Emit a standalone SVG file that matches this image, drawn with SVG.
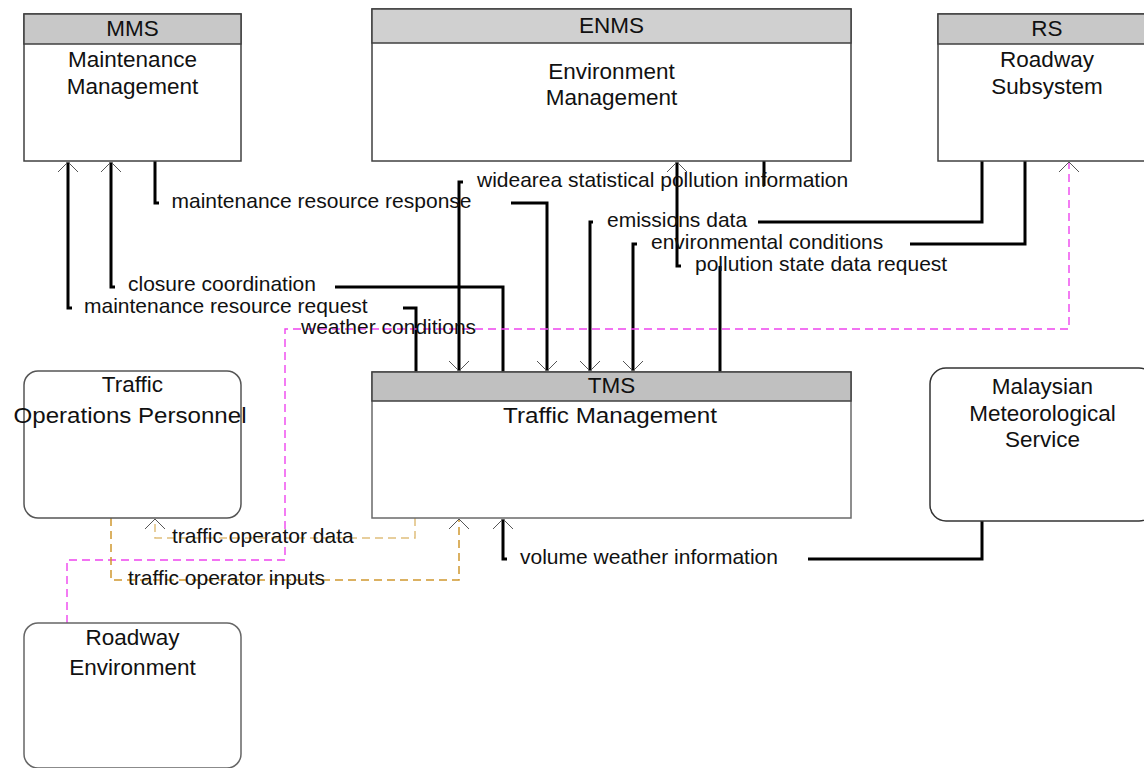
<svg xmlns="http://www.w3.org/2000/svg" width="1144" height="768" viewBox="0 0 1144 768">
<style>
.box{fill:#fff;stroke:#404040;stroke-width:1.5}
.hdr{stroke:#404040;stroke-width:1.5}
.nt{font-family:"Liberation Sans",Arial,sans-serif;font-size:22.5px;fill:#111;text-anchor:middle}
.lb{font-family:"Liberation Sans",Arial,sans-serif;font-size:21px;fill:#111}
.ln{fill:none;stroke:#000;stroke-width:3}
.dm{fill:none;stroke:#ee44ee;stroke-width:1.4;stroke-dasharray:8 5}
.dl{fill:none;stroke:#dfbf7c;stroke-width:1.5;stroke-dasharray:8 5}
.dg{fill:none;stroke:#d0982f;stroke-width:1.5;stroke-dasharray:8 5}
</style>
<defs>
<marker id="arr" viewBox="-12 -12 24 24" markerWidth="24" markerHeight="24" refX="0" refY="0" orient="auto" markerUnits="userSpaceOnUse" overflow="visible">
<path d="M-10,-10 L0,0 L-10,10" fill="none" stroke="#555" stroke-width="1"/>
</marker>
</defs>
<rect width="1144" height="768" fill="#fff"/>

<g id="connectors">
<!-- maintenance resource request: TMS -> MMS -->
<polyline class="ln" points="416,372 416,308 403,308"/>
<polyline class="ln" points="72,308 68,308 68,162" marker-end="url(#arr)"/>
<!-- closure coordination -->
<polyline class="ln" points="503,372 503,287 335,287"/>
<polyline class="ln" points="115,287 111,287 111,162" marker-end="url(#arr)"/>
<!-- maintenance resource response: MMS -> TMS -->
<polyline class="ln" points="155,161 155,203 159,203"/>
<polyline class="ln" points="511,203 547,203 547,371" marker-end="url(#arr)"/>
<!-- widearea statistical pollution information: ENMS -> TMS -->
<polyline class="ln" points="764,161 764,186"/>
<polyline class="ln" points="463,182 459,182 459,371" marker-end="url(#arr)"/>
<!-- emissions data: RS -> TMS -->
<polyline class="ln" points="982,161 982,222 758,222"/>
<polyline class="ln" points="593,222 590,222 590,371" marker-end="url(#arr)"/>
<!-- environmental conditions: RS -> TMS -->
<polyline class="ln" points="1025,161 1025,244 910,244"/>
<polyline class="ln" points="637,244 633,244 633,371" marker-end="url(#arr)"/>
<!-- pollution state data request: TMS -> ENMS -->
<polyline class="ln" points="720,372 720,266"/>
<polyline class="ln" points="681,266 677,266 677,162" marker-end="url(#arr)"/>
<!-- volume weather information: MetService -> TMS -->
<polyline class="ln" points="982,521 982,559 808,559"/>
<polyline class="ln" points="507,559 503,559 503,519" marker-end="url(#arr)"/>
<!-- weather conditions: Roadway Environment -> RS -->
<polyline class="dm" points="67,623 67,560 285,560 285,329 1069,329 1069,162" marker-end="url(#arr)"/>
<!-- traffic operator data: TMS -> TOP -->
<polyline class="dl" points="415,518 415,538 155,538 155,519" marker-end="url(#arr)"/>
<!-- traffic operator inputs: TOP -> TMS -->
<polyline class="dg" points="111,518 111,580 459,580 459,519" marker-end="url(#arr)"/>

<text class="lb" x="171.5" y="208">maintenance resource response</text>
<text class="lb" x="477" y="187">widearea statistical pollution information</text>
<text class="lb" x="607" y="227">emissions data</text>
<text class="lb" x="651" y="249">environmental conditions</text>
<text class="lb" x="695" y="271">pollution state data request</text>
<text class="lb" x="128" y="291">closure coordination</text>
<text class="lb" x="84" y="313">maintenance resource request</text>
<text class="lb" x="301" y="334">weather conditions</text>
<text class="lb" x="172" y="543">traffic operator data</text>
<text class="lb" x="128" y="585">traffic operator inputs</text>
<text class="lb" x="520" y="564">volume weather information</text>
</g>

<g id="node-mms">
<rect class="box" x="24" y="14" width="217" height="147"/>
<rect class="hdr" x="24" y="14" width="217" height="30" fill="#c8c8c8"/>
<text class="nt" x="132.5" y="36">MMS</text>
<text class="nt" x="132.5" y="67">Maintenance</text>
<text class="nt" x="132.5" y="94">Management</text>
</g>

<g id="node-enms">
<rect class="box" x="372" y="9" width="479" height="152"/>
<rect class="hdr" x="372" y="9" width="479" height="34" fill="#d0d0d0"/>
<text class="nt" x="611.5" y="33">ENMS</text>
<text class="nt" x="611.5" y="79">Environment</text>
<text class="nt" x="611.5" y="105">Management</text>
</g>

<g id="node-rs">
<rect class="box" x="938" y="14" width="218" height="147"/>
<rect class="hdr" x="938" y="14" width="218" height="30" fill="#c8c8c8"/>
<text class="nt" x="1047" y="36">RS</text>
<text class="nt" x="1047" y="67">Roadway</text>
<text class="nt" x="1047" y="94">Subsystem</text>
</g>

<g id="node-tms">
<rect class="box" x="372" y="372" width="479" height="146" style="stroke:#6a6a6a"/>
<rect class="hdr" x="372" y="372" width="479" height="29" fill="#c0c0c0"/>
<text class="nt" x="611.5" y="393">TMS</text>
<text class="nt" x="610" y="423" textLength="214" lengthAdjust="spacingAndGlyphs">Traffic Management</text>
</g>

<g id="node-top">
<rect class="box" x="24" y="371" width="217" height="147" rx="14" style="stroke:#555"/>
<text class="nt" x="132.5" y="392">Traffic</text>
<text class="nt" x="130" y="423" textLength="233" lengthAdjust="spacingAndGlyphs">Operations Personnel</text>
</g>

<g id="node-met">
<rect class="box" x="930" y="368" width="225" height="153" rx="16" style="stroke:#333"/>
<text class="nt" x="1042.5" y="394">Malaysian</text>
<text class="nt" x="1042.5" y="421">Meteorological</text>
<text class="nt" x="1042.5" y="447">Service</text>
</g>

<g id="node-re">
<rect class="box" x="24" y="623" width="217" height="145" rx="14" style="stroke:#666"/>
<text class="nt" x="132.5" y="645">Roadway</text>
<text class="nt" x="132.5" y="675">Environment</text>
</g>
</svg>
